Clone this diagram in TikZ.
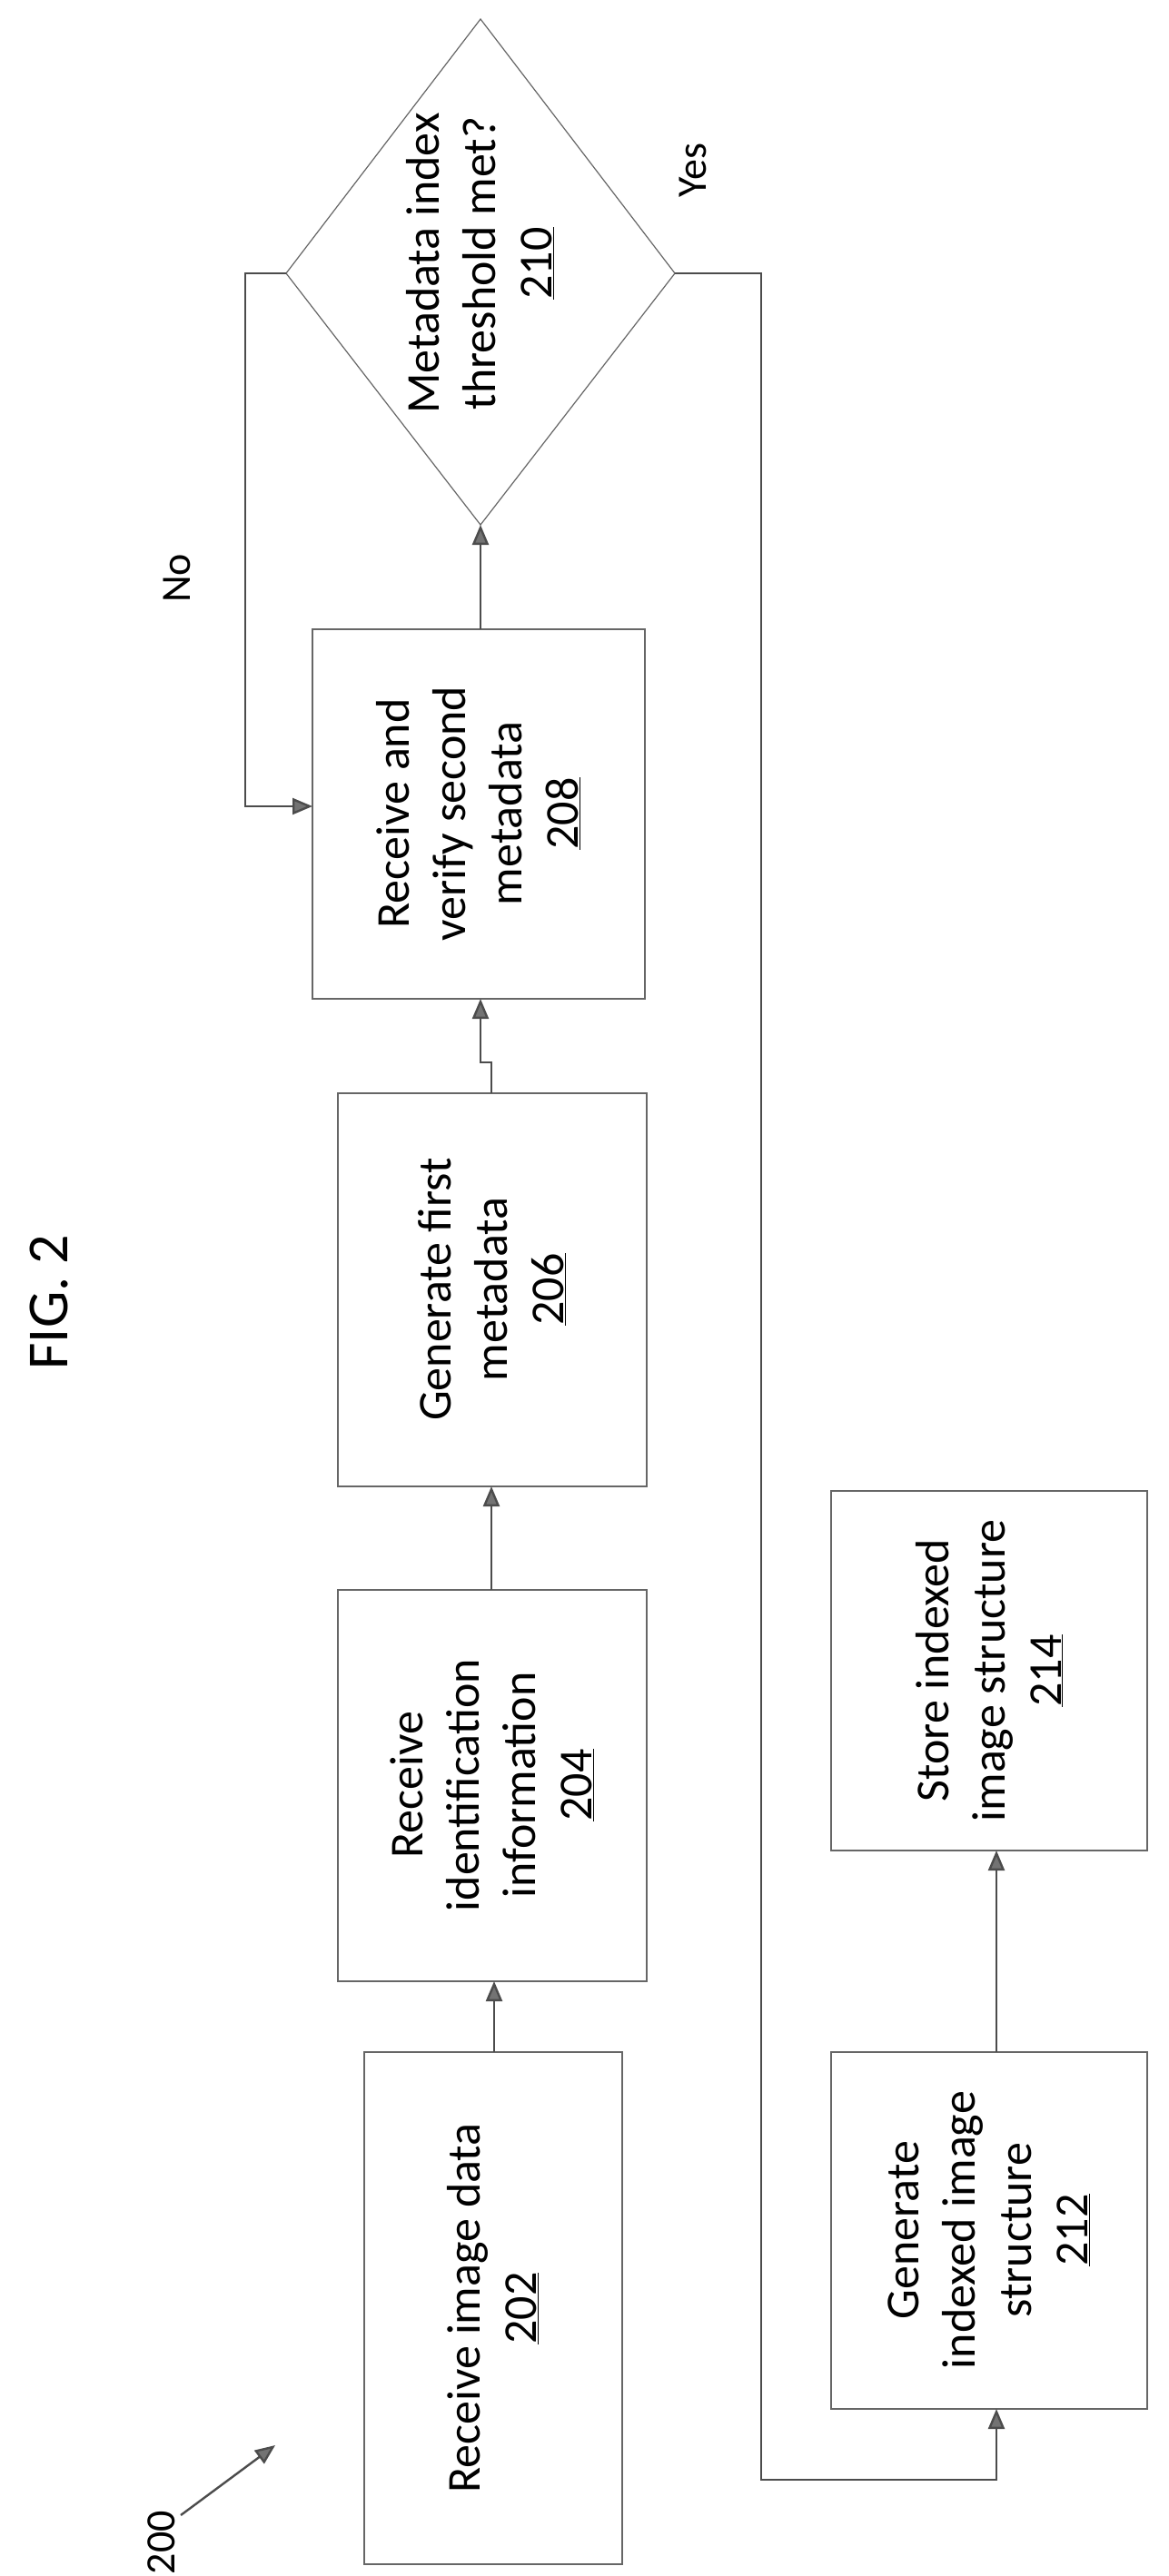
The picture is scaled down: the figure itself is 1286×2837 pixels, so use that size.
\documentclass[tikz,border=0pt]{standalone}
\usepackage{fontspec}
\setmainfont{Carlito}
\usetikzlibrary{arrows.meta}
\begin{document}
\begin{tikzpicture}[x=1pt,y=-1pt,
  box/.style={draw=black!60,line width=1.2pt},
  txt/.style={rotate=90,align=center,font=\fontsize{52}{62}\selectfont},
  ln/.style={draw=black!70,line width=2.4pt},
  arr/.style={ln,-{Triangle[length=22pt,width=18pt,fill=black!55]}}]
\useasboundingbox (0,0) rectangle (1286,2837);
% boxes
\draw[box] (344,693) rectangle (710,1100);
\draw[box] (372,1204) rectangle (712,1637);
\draw[box] (372,1751) rectangle (712,2182);
\draw[box] (401,2260) rectangle (685,2824);
\draw[box] (915,1642) rectangle (1263,2038);
\draw[box] (915,2260) rectangle (1263,2653);
\draw[box] (529,21) -- (743,301) -- (529,578) -- (315,301) -- cycle;
\node[txt] (t208) at (527,896) {Receive and\\verify second\\metadata\\\underline{208}};
\node[txt] (t206) at (542,1420) {Generate first\\metadata\\\underline{206}};
\node[txt] (t204) at (542,1966) {Receive\\identification\\information\\\underline{204}};
\node[txt] (t202) at (543,2542) {Receive image data\\\underline{202}};
\node[txt] (t214) at (1089,1840) {Store indexed\\image structure\\\underline{214}};
\node[txt] (t212) at (1089,2456) {Generate\\indexed image\\structure\\\underline{212}};
\node[txt] (t210) at (529,290) {Metadata index\\threshold met?\\\underline{210}};
% coordinates
\coordinate (b202) at (544,2260); \coordinate (b204t) at (544,2182);
\coordinate (b204) at (541,1751); \coordinate (b206t) at (541,1637);
\coordinate (b206) at (541,1204);
\coordinate (b208b) at (529,1100); \coordinate (b208) at (529,693);
\coordinate (dB) at (529,578); \coordinate (dL) at (315,301); \coordinate (dR) at (743,301);
\coordinate (in208) at (344,888);
\coordinate (b212) at (1097,2653); \coordinate (b212t) at (1097,2260); \coordinate (b214) at (1097,2038);
\draw[arr] (b202) -- (b204t);
\draw[arr] (b204) -- (b206t);
\draw[arr] (b206) -- (541,1170) -- (529,1170) -- (b208b);
\draw[arr] (b208) -- (dB);
\draw[arr] (dL) -- (270,301) -- (270,888) -- (in208);
\draw[arr] (dR) -- (838,301) -- (838,2731) -- (1097,2731) -- (b212);
\draw[arr] (b212t) -- (b214);
\node[rotate=90,font=\fontsize{46}{50}\selectfont] (no) at (195,637) {No};
\node[rotate=90,font=\fontsize{46}{50}\selectfont] (yes) at (763,188) {Yes};
\node[rotate=90,font=\fontsize{64}{70}\selectfont] (fig) at (54,1434) {FIG. 2};
\node[rotate=90,font=\fontsize{46}{50}\selectfont] (n200) at (178,2800) {200};
\coordinate (a200) at (303,2693);
\draw[arr] (199,2770) -- (a200);
\end{tikzpicture}
\end{document}
